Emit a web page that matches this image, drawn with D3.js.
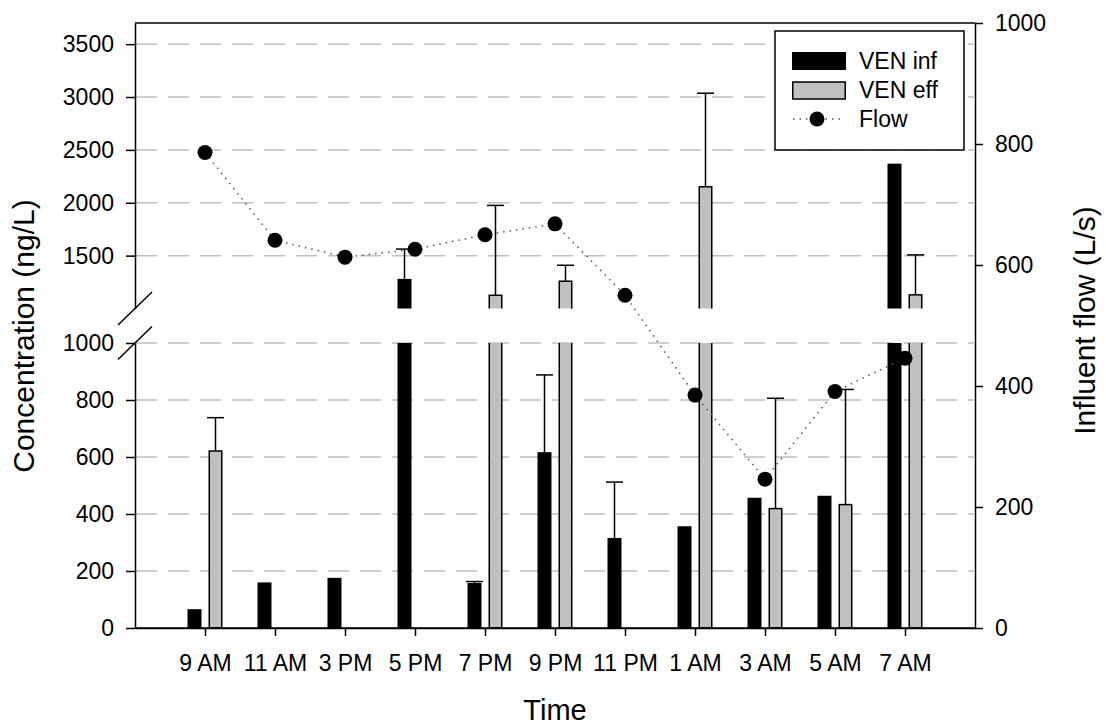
<!DOCTYPE html>
<html>
<head>
<meta charset="utf-8">
<script src="https://cdn.jsdelivr.net/npm/d3@7"></script>
<style>
  html, body { margin: 0; padding: 0; background: #fff; }
  svg { display: block; font-family: "Liberation Sans", Arial, sans-serif; }
</style>
</head>
<body>
<svg id="chart" width="1106" height="725"></svg>
<script>
// ---- data ----
const categories = ["9 AM", "11 AM", "3 PM", "5 PM", "7 PM", "9 PM", "11 PM", "1 AM", "3 AM", "5 AM", "7 AM"];
const venInf    = [66, 160, 176, 1280, 158, 617, 316, 357, 457, 464, 2370];
const venInfErr = [0, 0, 0, 282, 5, 271, 196, 0, 0, 0, 0];
const venEff    = [621, 0, 0, 0, 1125, 1258, 0, 2151, 419, 433, 1129];
const venEffErr = [117, 0, 0, 0, 850, 151, 0, 885, 387, 404, 378];
const flow      = [786, 641, 613, 626, 650, 668, 550, 385, 246, 391, 446];
const lowTicks  = [0, 200, 400, 600, 800, 1000];
const highTicks = [1500, 2000, 2500, 3000, 3500];
const flowTicks = [0, 200, 400, 600, 800, 1000];
const legendLabels = ["VEN inf", "VEN eff", "Flow"];

// ---- layout ----
const svg = d3.select("#chart");
const L = 135, R = 975, T = 23, B = 628;
const lowTop = 343, highBottom = 308.5;
const GREY = "#c0c0c0";

const x = d3.scalePoint().domain(categories).range([L, R]).padding(1);
const yLow = d3.scaleLinear().domain([0, 1000]).range([B, lowTop]);
const yHigh = d3.scaleLinear().domain([1000, 3700]).range([highBottom, T]);
const yR = d3.scaleLinear().domain([0, 1000]).range([B, T]);
const yVal = v => v <= 1000 ? yLow(v) : yHigh(v);

const barW = 14, off = 10.5, capW = 17;

// clip excluding the break gap
const defs = svg.append("defs");
const clip = defs.append("clipPath").attr("id", "brk");
clip.append("rect").attr("x", 0).attr("y", 0).attr("width", 1106).attr("height", highBottom);
clip.append("rect").attr("x", 0).attr("y", lowTop).attr("width", 1106).attr("height", 725 - lowTop);

// gridlines
const grid = svg.append("g");
[...lowTicks.filter(d => d > 0).map(d => yLow(d)), ...highTicks.map(d => yHigh(d))].forEach(y => {
  grid.append("line").attr("x1", L + 1).attr("x2", R - 1).attr("y1", y).attr("y2", y)
    .attr("stroke", GREY).attr("stroke-width", 1.5).attr("stroke-dasharray", "21 11");
});

// bars
const bars = svg.append("g").attr("clip-path", "url(#brk)");
categories.forEach((c, i) => {
  const cx = x(c);
  if (venInf[i] > 0) {
    bars.append("rect").attr("x", cx - off - barW / 2).attr("width", barW)
      .attr("y", yVal(venInf[i])).attr("height", B - yVal(venInf[i]))
      .attr("fill", "#000");
  }
  if (venEff[i] > 0) {
    bars.append("rect").attr("x", cx + off - barW / 2 + 0.75).attr("width", barW - 1.5)
      .attr("y", yVal(venEff[i])).attr("height", B - yVal(venEff[i]))
      .attr("fill", GREY).attr("stroke", "#000").attr("stroke-width", 1.5);
  }
});

// error bars
const err = svg.append("g").attr("stroke", "#000").attr("stroke-width", 1.5);
function errBar(cx, v, e) {
  if (!(v > 0) || !(e > 0)) return;
  const y0 = yVal(v), y1 = yVal(v + e);
  err.append("line").attr("x1", cx).attr("x2", cx).attr("y1", y0).attr("y2", y1);
  err.append("line").attr("x1", cx - capW / 2).attr("x2", cx + capW / 2).attr("y1", y1).attr("y2", y1);
}
categories.forEach((c, i) => {
  errBar(x(c) - off, venInf[i], venInfErr[i]);
  errBar(x(c) + off, venEff[i], venEffErr[i]);
});

// flow line and points
const line = d3.line().x((d, i) => x(categories[i])).y(d => yR(d));
svg.append("path").datum(flow).attr("d", line).attr("fill", "none")
  .attr("stroke", "#555").attr("stroke-width", 1.5).attr("stroke-dasharray", "1.5 5");
svg.append("g").selectAll("circle").data(flow).join("circle")
  .attr("cx", (d, i) => x(categories[i])).attr("cy", d => yR(d)).attr("r", 7.5).attr("fill", "#000");

// axes
function styleAxis(g) {
  g.selectAll("path, line").attr("stroke", "#000").attr("stroke-width", 1.5);
  g.selectAll("text").attr("fill", "#000").attr("font-size", 23)
    .attr("font-family", "'Liberation Sans', Arial, sans-serif");
}
svg.append("g").attr("transform", `translate(${L},0)`)
  .call(d3.axisLeft(yLow).tickValues(lowTicks).tickSize(9).tickPadding(12).tickSizeOuter(0).tickFormat(d3.format("d")))
  .call(styleAxis);
svg.append("g").attr("transform", `translate(${L},0)`)
  .call(d3.axisLeft(yHigh).tickValues(highTicks).tickSize(9).tickPadding(12).tickSizeOuter(0).tickFormat(d3.format("d")))
  .call(styleAxis);
svg.append("g").attr("transform", `translate(${R},0)`)
  .call(d3.axisRight(yR).tickValues(flowTicks).tickSize(8).tickPadding(12).tickSizeOuter(0).tickFormat(d3.format("d")))
  .call(styleAxis);
svg.append("g").attr("transform", `translate(0,${B})`)
  .call(d3.axisBottom(x).tickSize(8).tickPadding(19).tickSizeOuter(0))
  .call(styleAxis);
// bottom axis full width line and top frame
svg.append("line").attr("x1", L).attr("x2", R).attr("y1", B).attr("y2", B).attr("stroke", "#000").attr("stroke-width", 1.5);
svg.append("line").attr("x1", L).attr("x2", R).attr("y1", T).attr("y2", T).attr("stroke", "#000").attr("stroke-width", 1.5);

// break marks
[highBottom, lowTop].forEach(y => {
  svg.append("line").attr("x1", L - 17).attr("x2", L + 17).attr("y1", y + 16.5).attr("y2", y - 16.5)
    .attr("stroke", "#000").attr("stroke-width", 1.5);
});

// titles
svg.append("text").attr("x", 555).attr("y", 720).attr("text-anchor", "middle")
  .attr("font-size", 29).text("Time");
svg.append("text").attr("transform", "translate(34,336) rotate(-90)").attr("text-anchor", "middle")
  .attr("font-size", 30).text("Concentration (ng/L)");
svg.append("text").attr("transform", "translate(1095,320.5) rotate(-90)").attr("text-anchor", "middle")
  .attr("font-size", 30).text("Influent flow (L/s)");

// legend
const lg = svg.append("g");
lg.append("rect").attr("x", 775).attr("y", 31).attr("width", 189).attr("height", 119)
  .attr("fill", "#fff").attr("stroke", "#000").attr("stroke-width", 1.5);
lg.append("rect").attr("x", 792).attr("y", 52).attr("width", 54).attr("height", 18).attr("fill", "#000");
lg.append("rect").attr("x", 792.75).attr("y", 82).attr("width", 52.5).attr("height", 17)
  .attr("fill", GREY).attr("stroke", "#000").attr("stroke-width", 1.5);
lg.append("line").attr("x1", 793).attr("x2", 843).attr("y1", 119).attr("y2", 119)
  .attr("stroke", "#555").attr("stroke-width", 1.5).attr("stroke-dasharray", "1.5 5");
lg.append("circle").attr("cx", 817).attr("cy", 119).attr("r", 7.5).attr("fill", "#000");
[68.5, 97.5, 127].forEach((y, i) => {
  lg.append("text").attr("x", 859).attr("y", y).attr("font-size", 23).text(legendLabels[i]);
});
</script>
</body>
</html>
